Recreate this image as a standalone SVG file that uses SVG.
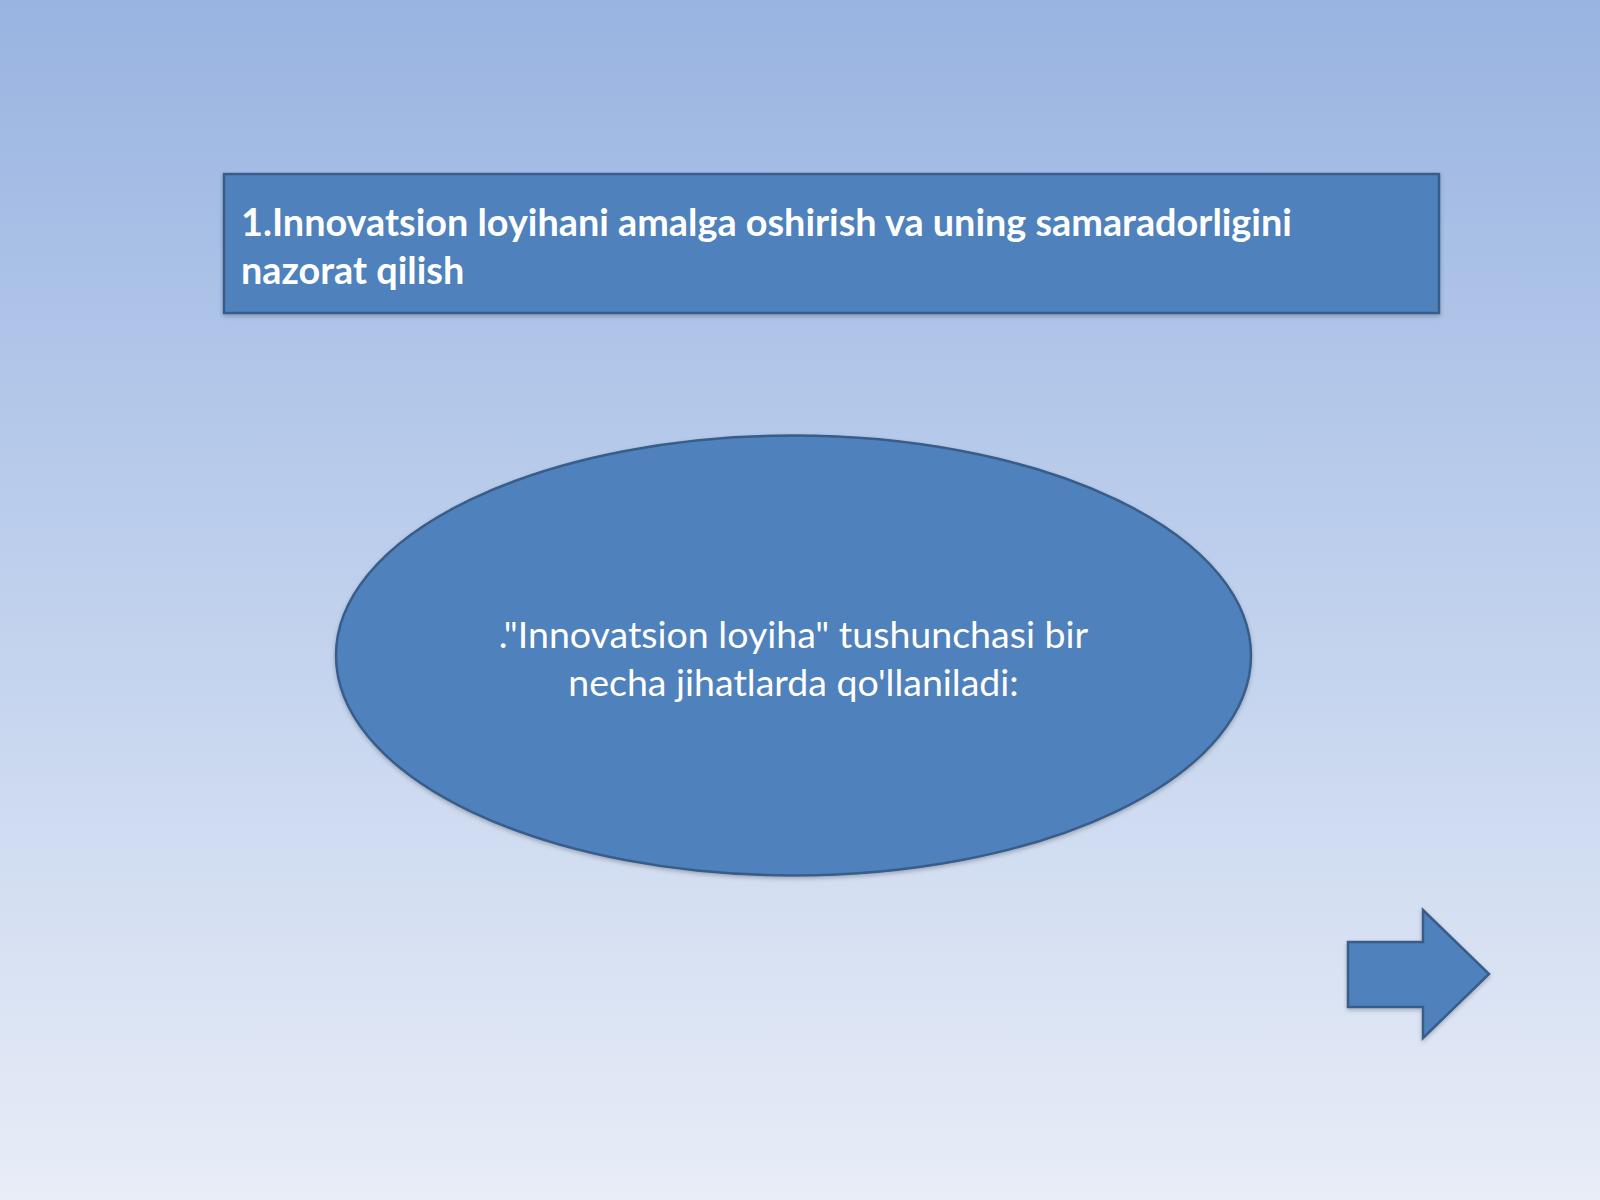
<svg xmlns="http://www.w3.org/2000/svg" width="1600" height="1200" viewBox="0 0 1600 1200">
<defs>
<linearGradient id="bg" x1="0" y1="0" x2="0" y2="1">
<stop offset="0" stop-color="#99B4E1"/>
<stop offset="0.45" stop-color="#BCCEEC"/>
<stop offset="1" stop-color="#E8EDF7"/>
</linearGradient>
<filter id="sh" x="-10%" y="-10%" width="120%" height="130%">
<feDropShadow dx="0" dy="2" stdDeviation="2" flood-color="#000" flood-opacity="0.25"/>
</filter>
<style>
.shape{fill:#4F81BD;stroke:#385D8A;stroke-width:2.5;filter:url(#sh)}
.t{font-family:Lato,"Open Sans","Liberation Sans",sans-serif;fill:#FFFFFF;font-size:37.5px}
</style>
</defs>
<rect width="1600" height="1200" fill="url(#bg)"/>
<g id="title">
<rect class="shape" x="224" y="174" width="1215" height="139"/>
<text class="t" font-weight="bold" x="241" y="236" style="font-size:37.8px">1.Innovatsion loyihani amalga oshirish va uning samaradorligini</text>
<text class="t" font-weight="bold" x="241" y="284" style="font-size:37.8px">nazorat qilish</text>
</g>
<g id="ellipse">
<ellipse class="shape" cx="793.5" cy="655.5" rx="457.5" ry="220"/>
<text class="t" text-anchor="middle" x="793.5" y="648">."Innovatsion loyiha" tushunchasi bir</text>
<text class="t" text-anchor="middle" x="793.5" y="696">necha jihatlarda qo'llaniladi:</text>
</g>
<g id="arrow">
<polygon class="shape" points="1348,942 1423,942 1423,910 1489,974 1423,1038 1423,1007 1348,1007"/>
</g>
<g id="connectors"/>
</svg>
